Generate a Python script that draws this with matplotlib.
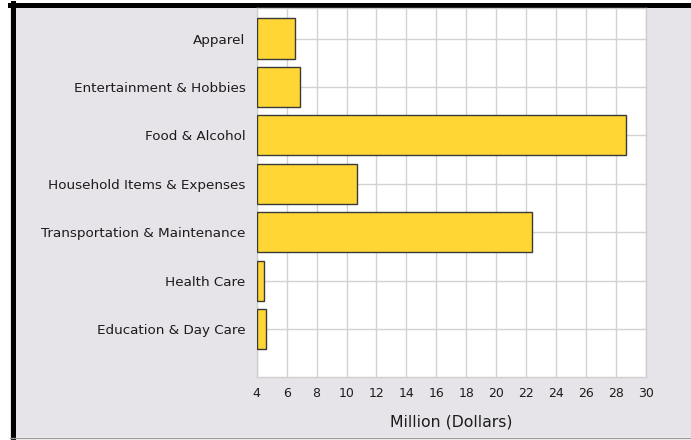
import matplotlib
matplotlib.use("Agg")
import matplotlib.pyplot as plt
from matplotlib.patches import Rectangle
from matplotlib.lines import Line2D

categories = ["Apparel", "Entertainment & Hobbies", "Food & Alcohol",
              "Household Items & Expenses", "Transportation & Maintenance",
              "Health Care", "Education & Day Care"]
values = [6.56, 6.89, 28.67, 10.70, 22.37, 4.49, 4.60]
x_ticks = [4, 6, 8, 10, 12, 14, 16, 18, 20, 22, 24, 26, 28, 30]
x_label = "Million (Dollars)"

W, H = 691, 440
fig = plt.figure(figsize=(W / 100, H / 100), dpi=100)
fig.patch.set_facecolor("white")

def fx(px):
    return px / W

def fy(py):
    return 1 - py / H

bg = "#e6e4e8"
fig.patches.append(Rectangle((fx(10), fy(437)), fx(691) - fx(10), fy(3) - fy(437),
                             transform=fig.transFigure, facecolor=bg, edgecolor="none", zorder=-10))
fig.lines.append(Line2D([fx(12.5), fx(12.5)], [fy(437), fy(3)], transform=fig.transFigure,
                        color="black", linewidth=3.6, zorder=-5))
fig.lines.append(Line2D([fx(10), fx(691)], [fy(5.5), fy(5.5)], transform=fig.transFigure,
                        color="black", linewidth=3.6, zorder=-5))
fig.lines.append(Line2D([fx(10), fx(691)], [fy(437.5), fy(437.5)], transform=fig.transFigure,
                        color="#9a9a9a", linewidth=1.0, zorder=-5))

ax = fig.add_axes([fx(256.7), fy(377), fx(646) - fx(256.7), fy(8) - fy(377)])
ax.set_zorder(5)
ax.set_facecolor("white")
ypos = list(range(len(categories)))
ax.barh(ypos, [v - 4 for v in values], left=4, height=0.83, color="#ffd633",
        edgecolor="#3a3a3a", linewidth=1.0, zorder=3)
ax.set_xlim(4, 30)
ax.set_ylim(6.99, -0.63)
ax.set_xticks(x_ticks)
ax.set_xticklabels([str(t) for t in x_ticks])
ax.set_yticks(ypos)
ax.set_yticklabels(categories)
ax.grid(True, color="#d2d2d2", linewidth=1.0, zorder=0)
ax.set_axisbelow(True)
ax.tick_params(axis="both", length=0, colors="#1c1c1c")
ax.tick_params(axis="x", pad=7.5, labelsize=9.0)
ax.tick_params(axis="y", pad=8, labelsize=9.7)
for s in ax.spines.values():
    s.set_color("#cfcfcf")
    s.set_linewidth(1.0)
ax.set_xlabel(x_label, fontsize=11.3, color="#1c1c1c", labelpad=10)

fig.savefig("out.png", dpi=100, facecolor=fig.get_facecolor())
